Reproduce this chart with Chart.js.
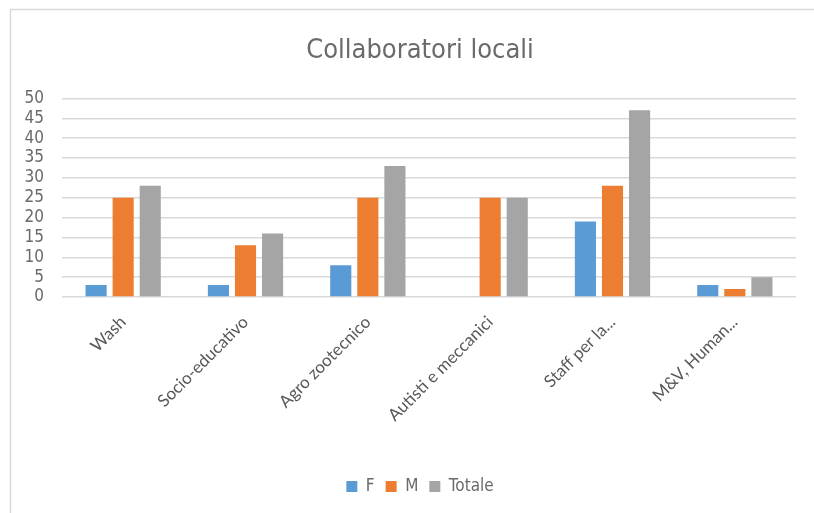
<!DOCTYPE html>
<html>
<head>
<meta charset="utf-8">
<script src="https://cdn.jsdelivr.net/npm/chart.js@4/dist/chart.umd.min.js"></script>
<style>
html,body{margin:0;padding:0;background:#fff;overflow:hidden;}
#wrap{position:relative;width:814px;height:513px;}
</style>
</head>
<body>
<div id="wrap"><canvas id="c" width="814" height="513"></canvas></div>
<script>
const categories = ["Wash", "Socio-educativo", "Agro zootecnico", "Autisti e meccanici", "Staff per la...", "M&V, Human..."];
const valuesF = [3, 3, 8, 0, 19, 3];
const valuesM = [25, 13, 25, 25, 28, 2];
const valuesTotale = [28, 16, 33, 25, 47, 5];
const seriesNames = ["F", "M", "Totale"];
const colors = ["#5B9BD5", "#ED7D31", "#A5A5A5"];
const yTicks = [0, 5, 10, 15, 20, 25, 30, 35, 40, 45, 50];

const NARROW = "'Liberation Sans Narrow', 'DejaVu Sans Condensed', sans-serif";

const framePlugin = {
  id: 'frame',
  beforeDraw(chart) {
    const ctx = chart.ctx;
    ctx.save();
    ctx.fillStyle = '#fff';
    ctx.fillRect(0, 0, chart.width, chart.height);
    ctx.strokeStyle = '#d9d9d9';
    ctx.lineWidth = 1.5;
    ctx.beginPath();
    ctx.moveTo(10.5, 600);
    ctx.lineTo(10.5, 9.5);
    ctx.lineTo(900, 9.5);
    ctx.stroke();
    ctx.restore();
  }
};

const series = [valuesF, valuesM, valuesTotale];
new Chart(document.getElementById('c'), {
  type: 'bar',
  data: {
    labels: categories,
    datasets: series.map((v, i) => ({
      label: seriesNames[i],
      data: v,
      backgroundColor: colors[i],
      borderWidth: 0,
      categoryPercentage: 0.664,
      barPercentage: 0.78
    }))
  },
  options: {
    responsive: false,
    animation: false,
    layout: { padding: { left: 44, right: 18, top: 0, bottom: 8 } },
    plugins: {
      title: {
        display: true,
        text: 'Collaboratori locali',
        color: '#6a6a6a',
        font: { family: NARROW, size: 27, weight: 'normal' },
        padding: { top: 35, bottom: 31 }
      },
      legend: {
        display: true,
        position: 'bottom',
        labels: {
          color: '#6a6a6a',
          font: { family: NARROW, size: 17 },
          boxWidth: 11,
          boxHeight: 11,
          padding: 11
        }
      },
      tooltip: { enabled: false }
    },
    scales: {
      x: {
        grid: { display: false, drawTicks: false },
        border: { display: false },
        ticks: {
          color: '#595959',
          font: { family: "Lato, 'Open Sans', sans-serif", size: 17 },
          maxRotation: 45,
          minRotation: 45,
          autoSkip: false,
          padding: 15
        },
        afterFit(scale) { scale.height = 170; }
      },
      y: {
        min: 0,
        max: 50,
        afterBuildTicks(scale) { scale.ticks = yTicks.map(v => ({ value: v })); },
        grid: { color: '#d9d9d9', lineWidth: 1.5, drawTicks: false },
        border: { display: false },
        ticks: {
          color: '#6a6a6a',
          font: { family: NARROW, size: 17 },
          padding: 18,
          autoSkip: false
        },
        afterFit(scale) {
          scale.width = 18;
          scale._computeLabelArea = () => undefined;
        }
      }
    }
  },
  plugins: [framePlugin]
});
</script>
</body>
</html>
